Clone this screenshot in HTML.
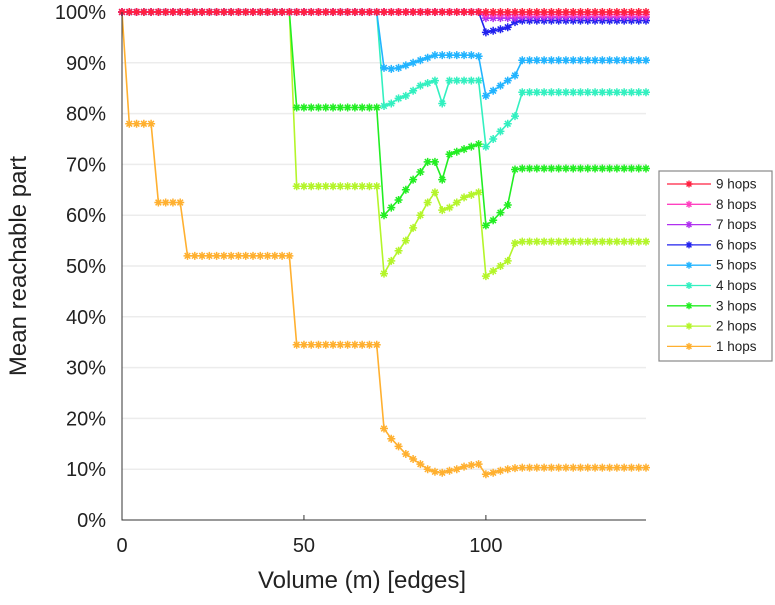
<!DOCTYPE html>
<html><head><meta charset="utf-8"><style>
body{margin:0;background:#fff;}
svg text{font-family:"Liberation Sans",sans-serif;fill:#222;}
</style></head><body>
<svg id="chart" width="775" height="600" xmlns="http://www.w3.org/2000/svg">
<g id="grid"></g>
<g id="series"></g>
<g id="axes"></g>
<text x="362" y="588" font-size="24" text-anchor="middle">Volume (m) [edges]</text>
<text transform="translate(26,266) rotate(-90)" font-size="24" text-anchor="middle">Mean reachable part</text>
<g id="legend"></g>
</svg>
<script>
const xTicks=[0,50,100];
const yTicks=[0,10,20,30,40,50,60,70,80,90,100];
const seriesNames=["1 hops","2 hops","3 hops","4 hops","5 hops","6 hops","7 hops","8 hops","9 hops"];
const colors=["#ffb030","#b4f52a","#22ee22","#33f0c0","#22b4ff","#2222ee","#b030f0","#ff40c0","#ff2040"];
const xs=[];for(let i=0;i<=72;i++)xs.push(i*2);
function rep(v,n){return Array(n).fill(v);}
const hops1=[100].concat(rep(78,4),rep(62.5,4),rep(52,15),rep(34.5,12),[18,16,14.5,13,12,11,10,9.5,9.3,9.7,10,10.5,10.8,11,9,9.3,9.7,10,10.2],rep(10.3,18));
const hops2=rep(100,24).concat(rep(65.7,12),[48.5,51,53,55,57.5,60,62.5,64.5,61,61.5,62.5,63.5,64,64.5,48,49,50,51,54.5],rep(54.8,18));
const hops3=rep(100,24).concat(rep(81.2,12),[60,61.5,63,65,67,68.5,70.5,70.5,67,72,72.5,73,73.5,74,58,59,60.5,62,69],rep(69.2,18));
const hops4=rep(100,36).concat([81.5,82,83,83.5,84.5,85.5,86,86.5,82,86.5,86.5,86.5,86.5,86.5,73.5,75,76.5,78,79.5],rep(84.2,18));
const hops5=rep(100,36).concat([89,88.8,89,89.5,90,90.5,91,91.5,91.5,91.5,91.5,91.5,91.5,91.3,83.5,84.5,85.5,86.5,87.5],rep(90.5,18));
const hops6=rep(100,50).concat([96,96.3,96.6,97,98],rep(98.3,18));
const hops7=rep(100,50).concat(rep(98.8,5),rep(99,18));
const hops8=rep(100,50).concat(rep(99.5,23));
const hops9=rep(100,73);
const allSeries=[hops1,hops2,hops3,hops4,hops5,hops6,hops7,hops8,hops9];
const X0=122,X1=646,XMAX=144,Y0=520,Y1=12;
const sx=v=>X0+(v/XMAX)*(X1-X0);
const sy=v=>Y0-(v/100)*(Y0-Y1);
const NS="http://www.w3.org/2000/svg";
function mk(t,a,p){const e=document.createElementNS(NS,t);for(const k in a)e.setAttribute(k,a[k]);p.appendChild(e);return e;}
const grid=document.getElementById('grid'),axes=document.getElementById('axes'),sg=document.getElementById('series'),lg=document.getElementById('legend');
yTicks.forEach(t=>{
 if(t>0&&t<100){const l=mk('line',{x1:X0,x2:X1,y1:sy(t),y2:sy(t),stroke:'#ececec','stroke-width':1.5},grid);
 
 }
 const tx=mk('text',{x:106,y:sy(t)+7,'font-size':20,'text-anchor':'end'},axes);tx.textContent=t+'%';
 
 
});
xTicks.forEach(t=>{
 const tx=mk('text',{x:sx(t),y:552,'font-size':20,'text-anchor':'middle'},axes);tx.textContent=t;
 
 
 const tk=mk('line',{x1:sx(t),x2:sx(t),y1:Y0,y2:Y0-5,stroke:'#333'},axes);
 
 
});
const ax=mk('path',{d:`M${X0} ${Y1}V${Y0}H${X1}`,fill:'none',stroke:'#333','stroke-width':1},axes);


function star(x,y,r){return `M${x-r} ${y}h${2*r}M${x} ${y-r}v${2*r}M${x-r*0.7} ${y-r*0.7}l${1.4*r} ${1.4*r}M${x-r*0.7} ${y+r*0.7}l${1.4*r} ${-1.4*r}`;}
allSeries.forEach((s,k)=>{
 const g=mk('g',{},sg);
 
 
 let d='',m='';
 s.forEach((v,i)=>{d+=(i?'L':'M')+sx(xs[i])+' '+sy(v);m+=star(sx(xs[i]),sy(v),4);});
 const ln=mk('path',{d:d,fill:'none',stroke:colors[k],'stroke-width':1.6},g);
 
 
 const mp=mk('path',{d:m,fill:'none',stroke:colors[k],'stroke-width':1.5},g);
 
 
});
const box=mk('rect',{x:659,y:171,width:113,height:190,fill:'#fff',stroke:'#888','stroke-width':1.2},lg);


for(let j=0;j<9;j++){
 const k=8-j,y=184+j*20.3;
 const e=mk('g',{},lg);
 
 
 mk('line',{x1:667,x2:711,y1:y,y2:y,stroke:colors[k],'stroke-width':1.3},e);
 mk('path',{d:star(689,y,3.5),stroke:colors[k],'stroke-width':1.4},e);
 const t=mk('text',{x:716,y:y+4.5,'font-size':13.5},e);t.textContent=seriesNames[k];
}
</script>
</body></html>
